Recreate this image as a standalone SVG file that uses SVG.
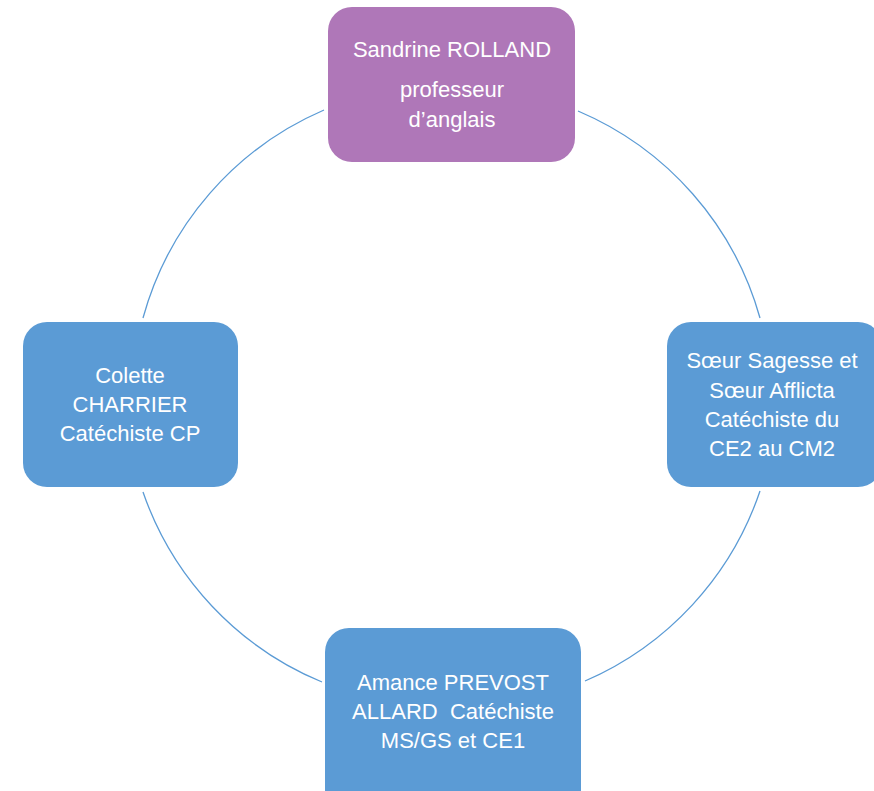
<svg xmlns="http://www.w3.org/2000/svg" width="874" height="791" viewBox="0 0 874 791">
<style>
.arc{fill:none;stroke:#5B9BD5;stroke-width:1.3}
.box{fill:#5B9BD5}
.purple{fill:#AF77B8}
text{font-family:"Liberation Sans",Arial,sans-serif;font-size:22px;fill:#FFFFFF;text-anchor:middle}
</style>
<rect width="874" height="791" fill="#FFFFFF"/>
<g id="connectors">
<path class="arc" d="M324,110 A318,318 0 0 0 143,318"/>
<path class="arc" d="M578,111 A318,318 0 0 1 760,318"/>
<path class="arc" d="M143,492 A318,318 0 0 0 322,682"/>
<path class="arc" d="M760,491 A318,318 0 0 1 585,681"/>
</g>
<g id="node-top">
<rect class="purple" x="328" y="7" width="247" height="155" rx="24"/>
<text x="452" y="57">Sandrine ROLLAND</text>
<text x="452" y="97">professeur</text>
<text x="452" y="127">d’anglais</text>
</g>
<g id="node-left">
<rect class="box" x="23" y="322" width="215" height="165" rx="24"/>
<text x="130" y="383">Colette</text>
<text x="130" y="412">CHARRIER</text>
<text x="130" y="441">Catéchiste CP</text>
</g>
<g id="node-right">
<rect class="box" x="667" y="322" width="215" height="165" rx="24"/>
<text x="772" y="368">Sœur Sagesse et</text>
<text x="772" y="398">Sœur Afflicta</text>
<text x="772" y="427">Catéchiste du</text>
<text x="772" y="456">CE2 au CM2</text>
</g>
<g id="node-bottom">
<rect class="box" x="325" y="628" width="256" height="185" rx="24"/>
<text x="453" y="690">Amance PREVOST</text>
<text x="453" y="719" xml:space="preserve">ALLARD  Catéchiste</text>
<text x="453" y="748">MS/GS et CE1</text>
</g>
</svg>
